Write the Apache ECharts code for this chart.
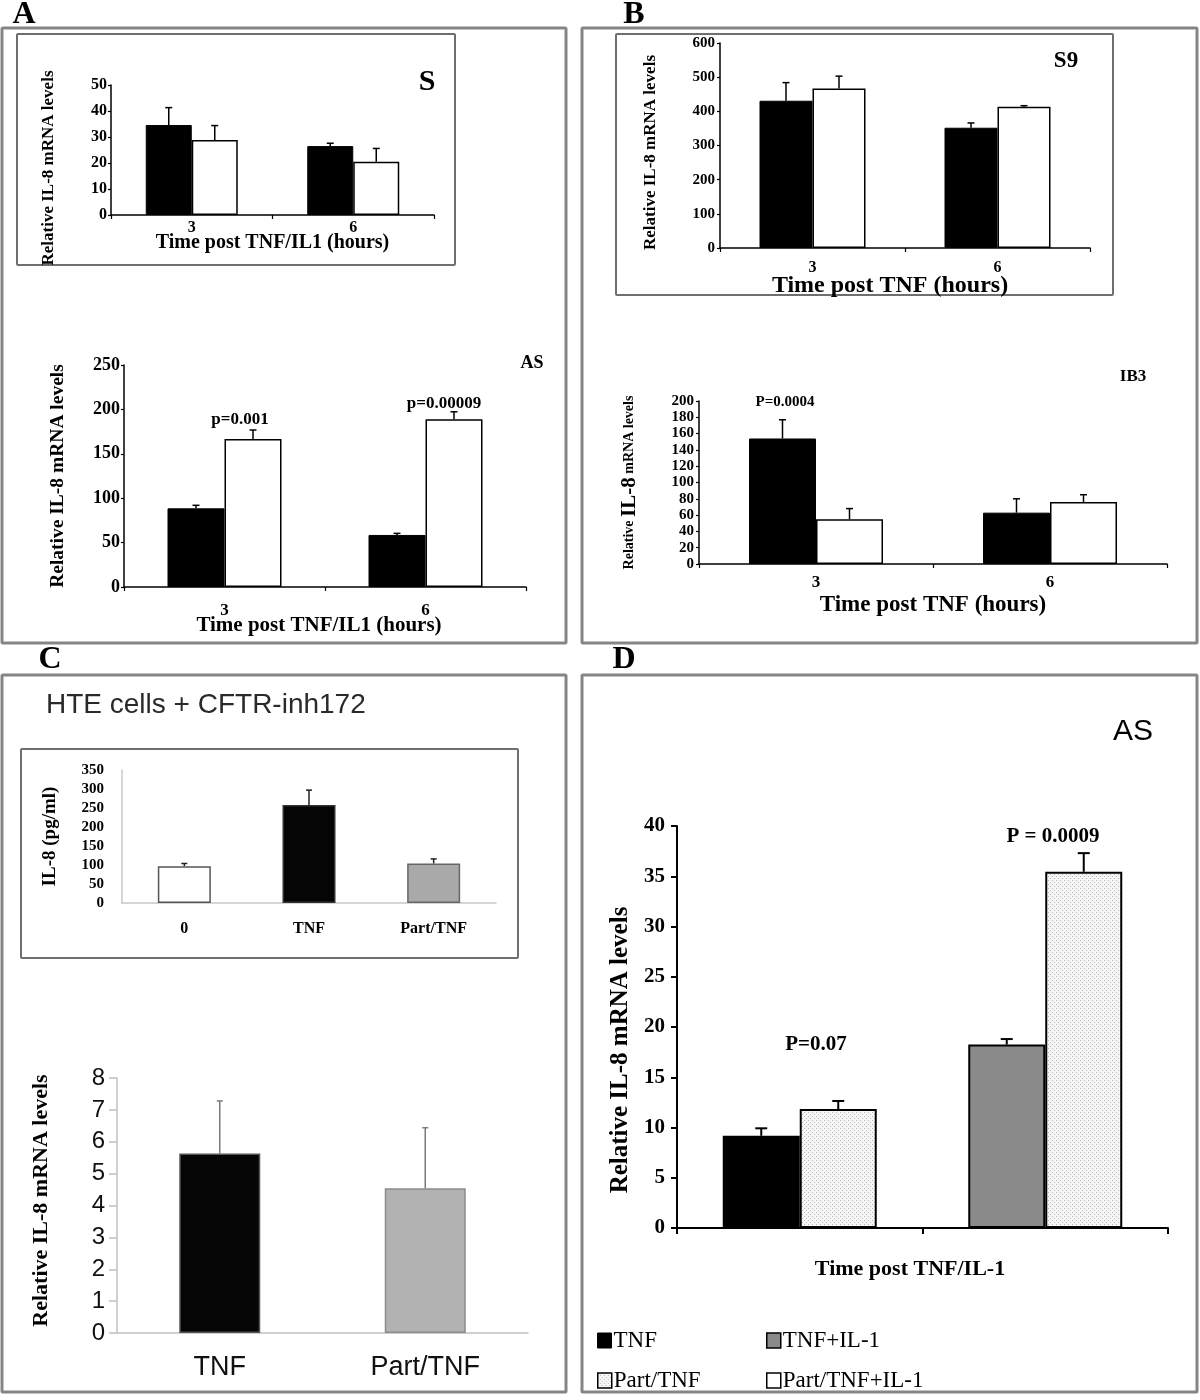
<!DOCTYPE html>
<html><head><meta charset="utf-8">
<script src="https://cdn.jsdelivr.net/npm/echarts/dist/echarts.min.js"></script>
<style>html,body{margin:0;padding:0;background:#fff}#c{width:1200px;height:1400px}</style>
</head><body><div id="c"></div>
<script>
// ---------------- DATA ----------------
// Panel A, inset S
const aS_cats = ['3', '6'];
const aS_black = [34.6, 26.5];
const aS_black_err = [6.7, 1.1];
const aS_white = [28.8, 20.5];
const aS_white_err = [5.6, 5.1];
const aS_yRange = [0, 50, 10];
// Panel A, AS
const aAS_cats = ['3', '6'];
const aAS_black = [88.6, 58.6];
const aAS_black_err = [3.4, 1.8];
const aAS_white = [166.7, 189];
const aAS_white_err = [10.1, 8.3];
const aAS_yRange = [0, 250, 50];
const aAS_pvals = ['p=0.001', 'p=0.00009'];
// Panel B, inset S9
const bS9_cats = ['3', '6'];
const bS9_black = [431, 352];
const bS9_black_err = [53, 14];
const bS9_white = [467, 413.5];
const bS9_white_err = [36, 3];
const bS9_yRange = [0, 600, 100];
// Panel B, IB3
const bIB3_cats = ['3', '6'];
const bIB3_black = [154, 63];
const bIB3_black_err = [23, 17];
const bIB3_white = [55, 76];
const bIB3_white_err = [13, 9];
const bIB3_yRange = [0, 200, 20];
const bIB3_pval = 'P=0.0004';
// Panel C, inset IL-8 protein
const cIn_cats = ['0', 'TNF', 'Part/TNF'];
const cIn_vals = [97, 258, 104];
const cIn_err = [7, 39, 12];
const cIn_yRange = [0, 350, 50];
// Panel C, lower
const cLo_cats = ['TNF', 'Part/TNF'];
const cLo_vals = [5.63, 4.54];
const cLo_err = [1.65, 1.9];
const cLo_yRange = [0, 8, 1];
// Panel D
const d_cats = ['TNF', 'TNF+IL-1'];
const d_TNF = [9.18, '-'];
const d_TNFIL1 = ['-', 18.25];
const d_Part = [11.84, '-'];
const d_PartIL1 = ['-', 35.45];
const d_leftVals = [9.18, 18.25];
const d_leftErr = [0.74, 0.55];
const d_rightVals = [11.84, 35.45];
const d_rightErr = [0.8, 1.85];
const d_yRange = [0, 40, 5];
const d_pvals = ['P=0.07', 'P = 0.0009'];

// ---------------- STYLE HELPERS ----------------
const SERIF = '"Liberation Serif","Times New Roman",serif';
const SANS = '"Liberation Sans",Arial,sans-serif';

function merge(a, b) {
  const o = Array.isArray(a) ? a.slice() : Object.assign({}, a);
  for (const k in b) {
    if (b[k] && typeof b[k] === 'object' && !Array.isArray(b[k]) && a[k] && typeof a[k] === 'object') o[k] = merge(a[k], b[k]);
    else o[k] = b[k];
  }
  return o;
}

function xAx(gi, cats, o) {
  return merge({
    type: 'category', gridIndex: gi, data: cats, nameLocation: 'middle', nameMoveOverlap: false,
    axisLine: { show: true, lineStyle: { color: '#000', width: 1.5 } },
    axisTick: { show: true, length: 4, lineStyle: { color: '#000', width: 1.2 } },
    axisLabel: { fontFamily: SERIF, fontWeight: 'bold', fontSize: 15, color: '#000', margin: 4 },
    nameTextStyle: { fontFamily: SERIF, fontWeight: 'bold', fontSize: 18, color: '#000' },
    splitLine: { show: false }
  }, o || {});
}
function yAx(gi, r, o) {
  return merge({
    type: 'value', gridIndex: gi, min: r[0], max: r[1], interval: r[2],
    nameLocation: 'middle', nameRotate: 90, nameMoveOverlap: false,
    axisLine: { show: true, lineStyle: { color: '#000', width: 1.5 } },
    axisTick: { show: true, length: 3, lineStyle: { color: '#000', width: 1.2 } },
    axisLabel: { fontFamily: SERIF, fontWeight: 'bold', fontSize: 15, color: '#000', margin: 4 },
    nameTextStyle: { fontFamily: SERIF, fontWeight: 'bold', fontSize: 15, color: '#000' },
    splitLine: { show: false }
  }, o || {});
}
const BLACK = { color: '#000', borderColor: '#000', borderWidth: 1 };
const WHITE = { color: '#fff', borderColor: '#000', borderWidth: 1.5 };
function bar(gi, name, data, style, w, extra) {
  return Object.assign({
    type: 'bar', name: name, xAxisIndex: gi, yAxisIndex: gi, data: data,
    barWidth: w, barGap: '0%', itemStyle: style, silent: true
  }, extra || {});
}
function errSeries(gi, vals, errs, offset, st) {
  return {
    type: 'custom', xAxisIndex: gi, yAxisIndex: gi, z: 10, silent: true,
    data: vals.map((v, i) => [i, v, errs[i]]),
    encode: { x: 0, y: 1 },
    renderItem: (p, api) => {
      const i = api.value(0), v = api.value(1), e = api.value(2);
      const a = api.coord([i, v]), b = api.coord([i, v + e]);
      const x = a[0] + offset;
      const ls = { stroke: st.color, lineWidth: st.width };
      return { type: 'group', children: [
        { type: 'line', shape: { x1: x, y1: a[1], x2: x, y2: b[1] }, style: ls },
        { type: 'line', shape: { x1: x - st.cap, y1: b[1], x2: x + st.cap, y2: b[1] }, style: ls }
      ] };
    }
  };
}

// dotted pattern for Part/TNF bars in D
const pc = document.createElement('canvas');
pc.width = 4; pc.height = 4;
const pctx = pc.getContext('2d');
pctx.fillStyle = '#f6f6f6'; pctx.fillRect(0, 0, 4, 4);
pctx.fillStyle = '#b5b5b5'; pctx.fillRect(0, 0, 1, 1); pctx.fillRect(2, 2, 1, 1);
const DOT = { image: pc, repeat: 'repeat' };

// ---------------- GRAPHIC (frames & annotations) ----------------
function frame(x, y, w, h, lw, c) {
  return { type: 'rect', shape: { x: x, y: y, width: w, height: h, r: 1 }, style: { fill: 'none', stroke: c, lineWidth: lw }, silent: true, z: 0 };
}
function txt(x, y, s, font, extra) {
  return { type: 'text', x: x, y: y, silent: true, z: 20,
    style: Object.assign({ text: s, font: font, fill: '#000', textAlign: 'center', textVerticalAlign: 'middle', align: 'center', verticalAlign: 'middle' }, extra || {}) };
}
const graphics = [
  frame(2, 28, 564, 615, 3, '#858585'),
  frame(582, 28, 615, 615, 3, '#858585'),
  frame(2, 675, 564, 717, 3, '#858585'),
  frame(582, 675, 615, 717, 3, '#858585'),
  frame(17, 34, 438, 231, 2, '#6f6f6f'),
  frame(616, 34, 497, 261, 2, '#6f6f6f'),
  frame(21, 749, 497, 209, 2, '#6f6f6f'),
  txt(24, 15, 'A', 'bold 32px ' + SERIF),
  txt(634, 15, 'B', 'bold 32px ' + SERIF),
  txt(50, 660, 'C', 'bold 32px ' + SERIF),
  txt(624, 660, 'D', 'bold 32px ' + SERIF),
  txt(427, 82, 'S', 'bold 30px ' + SERIF),
  txt(532, 363, 'AS', 'bold 18px ' + SERIF),
  txt(240, 420, aAS_pvals[0], 'bold 17px ' + SERIF),
  txt(444, 404, aAS_pvals[1], 'bold 17px ' + SERIF),
  txt(1066, 61, 'S9', 'bold 23px ' + SERIF),
  txt(1133, 377, 'IB3', 'bold 17px ' + SERIF),
  txt(785, 402, bIB3_pval, 'bold 15px ' + SERIF),
  txt(46, 705, 'HTE cells + CFTR-inh172', '28px ' + SANS, { textAlign: 'left', align: 'left', fill: '#2a2a2a' }),
  txt(1133, 732, 'AS', '30px ' + SANS),
  txt(816, 1045, d_pvals[0], 'bold 21px ' + SERIF),
  txt(1053, 837, d_pvals[1], 'bold 21px ' + SERIF)
];

// ---------------- OPTION ----------------
const grids = [
  { left: 111, top: 85, width: 323, height: 130 },
  { left: 124, top: 365, width: 402, height: 222 },
  { left: 720, top: 43, width: 370, height: 205 },
  { left: 699, top: 401, width: 468, height: 163 },
  { left: 122, top: 770, width: 374, height: 133 },
  { left: 117, top: 1078, width: 411, height: 255 },
  { left: 677, top: 826, width: 491, height: 402 }
].map(g => Object.assign({ containLabel: false, outerBoundsMode: 'none' }, g));

const YNAME = 'Relative IL-8 mRNA levels';
const xAxes = [
  xAx(0, aS_cats, { name: 'Time post TNF/IL1 (hours)', nameGap: 18, axisLabel: { margin: 5, fontSize: 16 }, nameTextStyle: { fontSize: 20 } }),
  xAx(1, aAS_cats, { name: 'Time post TNF/IL1 (hours)', nameGap: 28, axisLabel: { margin: 15, fontSize: 17 }, nameTextStyle: { fontSize: 21, padding: [0, 12, 0, 0] } }),
  xAx(2, bS9_cats, { name: 'Time post TNF (hours)', nameGap: 26, axisLabel: { margin: 12, fontSize: 16 }, nameTextStyle: { fontSize: 24, padding: [0, 30, 0, 0] } }),
  xAx(3, bIB3_cats, { name: 'Time post TNF (hours)', nameGap: 30, axisLabel: { margin: 10, fontSize: 17 }, nameTextStyle: { fontSize: 23 } }),
  xAx(4, cIn_cats, { axisLine: { lineStyle: { color: '#c8c8c8', width: 1.5 } }, axisTick: { show: false }, axisLabel: { margin: 18, fontSize: 16 } }),
  xAx(5, cLo_cats, { axisLine: { lineStyle: { color: '#c0c0c0', width: 1.5 } }, axisTick: { show: false },
    axisLabel: { margin: 21, fontFamily: SANS, fontWeight: 'normal', fontSize: 27, color: '#111' } }),
  xAx(6, d_cats, { name: 'Time post TNF/IL-1', nameGap: 30, axisLabel: { show: false }, axisLine: { lineStyle: { width: 2 } },
    axisTick: { length: 6, lineStyle: { width: 2 } }, nameTextStyle: { fontSize: 22, padding: [0, 25, 0, 0] } })
];
const yAxes = [
  yAx(0, aS_yRange, { name: YNAME, nameGap: 54, axisLabel: { fontSize: 16 }, nameTextStyle: { fontSize: 17, padding: [0, 36, 0, 0] } }),
  yAx(1, aAS_yRange, { name: YNAME, nameGap: 56, axisLabel: { fontSize: 18, margin: 4 }, nameTextStyle: { fontSize: 19.5 } }),
  yAx(2, bS9_yRange, { name: YNAME, nameGap: 61, axisLabel: { fontSize: 15, margin: 5 }, nameTextStyle: { fontSize: 17, padding: [0, 14, 0, 0] } }),
  yAx(3, bIB3_yRange, { name: '{s|Relative }{b|IL-8}{s| mRNA levels}', nameGap: 59, axisLabel: { fontSize: 15, margin: 5 },
    nameTextStyle: { rich: { s: { fontFamily: SERIF, fontWeight: 'bold', fontSize: 14, color: '#000' }, b: { fontFamily: SERIF, fontWeight: 'bold', fontSize: 21, color: '#000' } } } }),
  yAx(4, cIn_yRange, { name: 'IL-8 (pg/ml)', nameGap: 62, axisLine: { lineStyle: { color: '#c8c8c8', width: 1.5 } }, axisTick: { show: false },
    axisLabel: { fontSize: 15, margin: 18 }, nameTextStyle: { fontSize: 19 } }),
  yAx(5, cLo_yRange, { name: YNAME, nameGap: 65, axisLine: { lineStyle: { color: '#c0c0c0', width: 1.5 } },
    axisTick: { show: true, length: 8, lineStyle: { color: '#c0c0c0', width: 1.5 } },
    axisLabel: { fontFamily: SANS, fontWeight: 'normal', fontSize: 24, color: '#111', margin: 12 }, nameTextStyle: { fontSize: 22, padding: [0, 0, 0, 10] } }),
  yAx(6, d_yRange, { name: YNAME, nameGap: 44, axisLine: { lineStyle: { width: 2 } }, axisTick: { length: 6, lineStyle: { width: 2 } },
    axisLabel: { fontSize: 21, margin: 12 }, nameTextStyle: { fontSize: 25, padding: [0, 46, 0, 0] } })
];

const EB = { color: '#000', width: 1.5, cap: 3.5 };
const series = [
  bar(0, 'TNF', aS_black, BLACK, 46), bar(0, 'Part/TNF', aS_white, WHITE, 46),
  errSeries(0, aS_black, aS_black_err, -23, EB), errSeries(0, aS_white, aS_white_err, 23, EB),

  bar(1, 'TNF', aAS_black, BLACK, 57), bar(1, 'Part/TNF', aAS_white, WHITE, 57),
  errSeries(1, aAS_black, aAS_black_err, -28.5, EB), errSeries(1, aAS_white, aAS_white_err, 28.5, EB),

  bar(2, 'TNF', bS9_black, BLACK, 53), bar(2, 'Part/TNF', bS9_white, WHITE, 53),
  errSeries(2, bS9_black, bS9_black_err, -26.5, EB), errSeries(2, bS9_white, bS9_white_err, 26.5, EB),

  bar(3, 'TNF', bIB3_black, BLACK, 67), bar(3, 'Part/TNF', bIB3_white, WHITE, 67),
  errSeries(3, bIB3_black, bIB3_black_err, -33.5, EB), errSeries(3, bIB3_white, bIB3_white_err, 33.5, EB),

  bar(4, 'IL-8', cIn_vals.map((v, i) => ({ value: v, itemStyle: [
      { color: '#fff', borderColor: '#555', borderWidth: 1.5 },
      { color: '#050505', borderColor: '#333', borderWidth: 1.5 },
      { color: '#a9a9a9', borderColor: '#666', borderWidth: 1.5 }][i] })), {}, 53),
  errSeries(4, cIn_vals, cIn_err, 0, { color: '#222', width: 1.5, cap: 3 }),

  bar(5, 'IL-8 mRNA', cLo_vals.map((v, i) => ({ value: v, itemStyle: [
      { color: '#050505', borderColor: '#555', borderWidth: 1.5 },
      { color: '#b2b2b2', borderColor: '#8a8a8a', borderWidth: 1.5 }][i] })), {}, 81),
  errSeries(5, cLo_vals, cLo_err, 0, { color: '#7a7a7a', width: 1.5, cap: 3 }),

  bar(6, 'TNF', d_TNF, { color: '#000', borderColor: '#000', borderWidth: 2 }, 77, { stack: 'L' }),
  bar(6, 'TNF+IL-1', d_TNFIL1, { color: '#8a8a8a', borderColor: '#000', borderWidth: 2 }, 77, { stack: 'L' }),
  bar(6, 'Part/TNF', d_Part, { color: DOT, borderColor: '#000', borderWidth: 2 }, 77, { stack: 'R' }),
  bar(6, 'Part/TNF+IL-1', d_PartIL1, { color: DOT, borderColor: '#000', borderWidth: 2 }, 77, { stack: 'R' }),
  errSeries(6, d_leftVals, d_leftErr, -38.5, { color: '#000', width: 2, cap: 6 }),
  errSeries(6, d_rightVals, d_rightErr, 38.5, { color: '#000', width: 2, cap: 6 })
];

function leg(name, left, top, st) {
  return { show: true, left: left, top: top, orient: 'horizontal', selectedMode: false, padding: 0,
    itemWidth: 14, itemHeight: 15, itemGap: 0, icon: 'rect',
    textStyle: { fontFamily: SERIF, fontSize: 23, color: '#000', padding: [0, 0, 0, -3] },
    data: [{ name: name, itemStyle: st }] };
}
const legends = [
  leg('TNF', 597, 1329, { color: '#000', borderColor: '#000', borderWidth: 1 }),
  leg('TNF+IL-1', 766, 1329, { color: '#8a8a8a', borderColor: '#000', borderWidth: 1.5 }),
  leg('Part/TNF', 597, 1369, { color: DOT, borderColor: '#000', borderWidth: 1.5 }),
  leg('Part/TNF+IL-1', 766, 1369, { color: '#fff', borderColor: '#000', borderWidth: 1.5 })
];

const chart = echarts.init(document.getElementById('c'), null, { renderer: 'canvas', width: 1200, height: 1400 });
chart.setOption({
  backgroundColor: '#fff',
  animation: false,
  grid: grids,
  xAxis: xAxes,
  yAxis: yAxes,
  legend: legends,
  series: series,
  graphic: { elements: graphics }
});
</script></body></html>
